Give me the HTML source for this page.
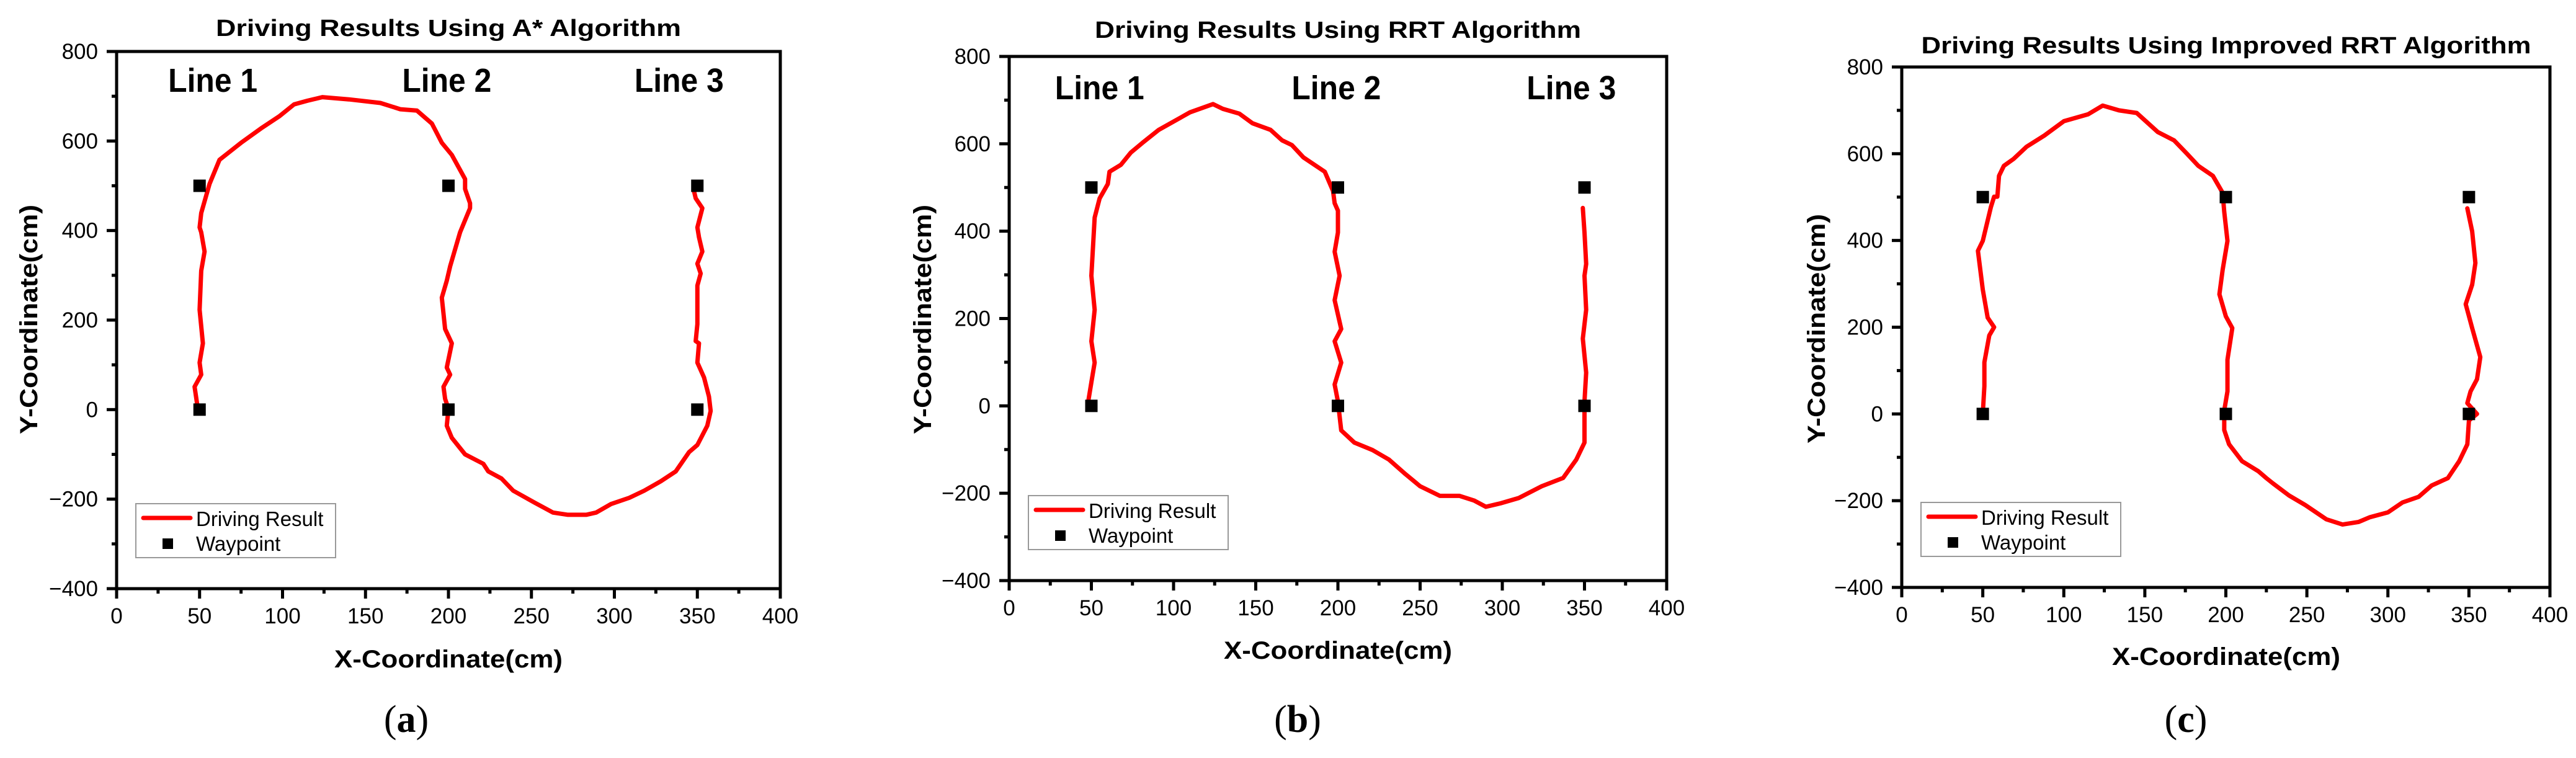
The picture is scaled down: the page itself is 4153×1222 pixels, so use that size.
<!DOCTYPE html>
<html><head><meta charset="utf-8"><style>
html,body{margin:0;padding:0;background:#fff;width:4153px;height:1222px;overflow:hidden}
svg{display:block;font-family:"Liberation Sans",Arial,sans-serif}
</style></head><body>
<svg id="fig" width="4153" height="1222" viewBox="0 0 4153 1222" xmlns="http://www.w3.org/2000/svg"></svg>
<script>
// ---- data ----
const xTickValues = [0, 50, 100, 150, 200, 250, 300, 350, 400];
const yTickValues = [-400, -200, 0, 200, 400, 600, 800];
const waypointX = [50, 50, 200, 200, 350, 350];
const waypointY = [0, 500, 500, 0, 500, 0];
const lineLabels = ["Line 1", "Line 2", "Line 3"];

const pathAX = [48.7,47,51,50,52,50,51,53,51,50,51,56,62,75,87,98,107,115,124,140,159,171,181,190,196,202,210,210,213,213,207,201,199,196,198,202,199,201,197,198,200,199,202,210,221,224,232,239,252,263,272,283,289,298,309,318,328,337,345,350,356,358,357,354,350,351,349,350,350,352,350,353,351,350,353,349,348];
const pathAY = [8,51,78,105,148,223,310,353,396,407,439,504,558,596,628,655,682,690,698,693,685,671,668,639,596,569,515,493,461,450,396,320,288,250,180,148,94,78,51,24,2,-36,-63,-100,-121,-138,-154,-181,-208,-230,-235,-235,-230,-211,-197,-181,-160,-138,-95,-79,-36,-3,29,72,105,148,153,191,277,304,326,353,385,407,450,472,488];

const pathBX = [48.3,50,52,50,52,50,52,55,60,61,68,74,81,91,110,124,130,140,148,159,166,172,179,192,197,198,200,200,198,201,198,202,198,202,198,200,202,210,221,231,241,250,262,274,283,290,299,310,324,337,345,350,350,351,349,351,350,351,350,349];
const pathBY = [15,54,99,148,220,298,431,475,508,536,552,580,602,632,672,691,680,669,647,632,608,597,569,536,492,464,447,397,353,298,242,176,148,99,49,10,-56,-84,-101,-123,-156,-184,-206,-206,-217,-231,-223,-211,-184,-165,-123,-84,10,76,154,220,298,325,397,453];

const pathCX = [50,51,51,54,57,53,50,47,50,55,57,59,60,63,69,77,88,100,115,124,134,145,158,168,176,183,192,198,199,201,198,196,200,204,201,201,199,199,202,210,220,225,229,239,249,262,272,282,289,300,309,319,327,337,344,349,350,355,349,351,355,357,352,348,352,354,352,349];
const pathCY = [0,64,119,181,200,222,287,376,399,477,501,501,549,572,588,616,642,675,691,711,700,694,650,631,600,572,549,510,466,399,332,276,225,198,125,52,8,-37,-70,-109,-132,-148,-160,-188,-210,-243,-255,-249,-238,-227,-204,-191,-165,-148,-109,-70,-15,0,25,52,80,131,198,253,298,348,421,474];

// ---- drawing ----
const NS = "http://www.w3.org/2000/svg";
const svg = document.getElementById("fig");
function mk(tag, attrs, parent, text) {
  const e = document.createElementNS(NS, tag);
  for (const k in attrs) e.setAttribute(k, attrs[k]);
  if (text !== undefined) e.textContent = text;
  (parent || svg).appendChild(e);
  return e;
}

const charts = [
  {id:"a", title:"Driving Results Using A* Algorithm", x0:188, x1:1258, yTop:83, yBot:949,
   px:pathAX, py:pathAY, labels:[58,199,339], labelY:710,
   titleX:723, titleY:58, titleLen:750, xtX:723, xtY:1076, ytX:46, ytY:515, cap:"a", capX:655},
  {id:"b", title:"Driving Results Using RRT Algorithm", x0:1627, x1:2687, yTop:91, yBot:936,
   px:pathBX, py:pathBY, labels:[55,199,342], labelY:702,
   titleX:2157, titleY:61, titleLen:784, xtX:2157, xtY:1062, ytX:1487, ytY:515, cap:"b", capX:2092},
  {id:"c", title:"Driving Results Using Improved RRT Algorithm", x0:3066, x1:4111, yTop:108, yBot:947,
   px:pathCX, py:pathCY, labels:null, labelY:0,
   titleX:3589, titleY:86, titleLen:983, xtX:3589, xtY:1072, ytX:2928, ytY:530, cap:"c", capX:3524}
];

charts.forEach(c => {
  const g = mk("g", {});
  
  
  const sx = v => c.x0 + (v - 0) / 400 * (c.x1 - c.x0);
  const sy = v => c.yBot - (v + 400) / 1200 * (c.yBot - c.yTop);

  const t = mk("text", {x:c.titleX, y:c.titleY, "text-anchor":"middle", "font-size":38, "font-weight":"bold", textLength:c.titleLen, lengthAdjust:"spacingAndGlyphs"}, g, c.title);
  
  

  const fr = mk("rect", {x:c.x0, y:c.yTop, width:c.x1-c.x0, height:c.yBot-c.yTop, fill:"none", stroke:"#000", "stroke-width":5}, g);
  
  

  for (let v = 0; v <= 400; v += 25) {
    const major = v % 50 === 0;
    const tk = mk("line", {x1:sx(v), x2:sx(v), y1:c.yBot, y2:c.yBot + (major ? 16 : 8), stroke:"#000", "stroke-width":5}, g);
    
    
  }
  xTickValues.forEach(v => {
    const l = mk("text", {x:sx(v), y:c.yBot + 56, "text-anchor":"middle", "font-size":35}, g, String(v));
    
    
  });
  for (let v = -400; v <= 800; v += 100) {
    const major = v % 200 === 0;
    const tk = mk("line", {x1:c.x0 - (major ? 16 : 8), x2:c.x0, y1:sy(v), y2:sy(v), stroke:"#000", "stroke-width":5}, g);
    
    
  }
  yTickValues.forEach(v => {
    const l = mk("text", {x:c.x0 - 30, y:sy(v) + 12, "text-anchor":"end", "font-size":35}, g, String(v).replace("-", "\u2212"));
    
    
  });

  const xt = mk("text", {x:c.xtX, y:c.xtY, "text-anchor":"middle", "font-size":40, "font-weight":"bold", textLength:368, lengthAdjust:"spacingAndGlyphs"}, g, "X-Coordinate(cm)");
  
  
  const yt = mk("text", {x:0, y:0, "text-anchor":"middle", "font-size":40, "font-weight":"bold", textLength:370, lengthAdjust:"spacingAndGlyphs", transform:`translate(${c.ytX + 14},${c.ytY}) rotate(-90)`}, g, "Y-Coordinate(cm)");
  
  

  if (c.labels) {
    c.labels.forEach((lx, i) => {
      const l = mk("text", {x:sx(lx), y:sy(c.labelY), "text-anchor":"middle", "font-size":54, "font-weight":"bold", textLength:144, lengthAdjust:"spacingAndGlyphs"}, g, lineLabels[i]);
      
      
    });
  }

  let d = "";
  c.px.forEach((v, i) => { d += (i ? "L" : "M") + sx(v).toFixed(1) + "," + sy(c.py[i]).toFixed(1); });
  const p = mk("path", {d:d, fill:"none", stroke:"#ff0000", "stroke-width":7, "stroke-linejoin":"round", "stroke-linecap":"round"}, g);
  
  

  waypointX.forEach((v, i) => {
    const m = mk("rect", {x:sx(v) - 10, y:sy(waypointY[i]) - 10, width:20, height:20, fill:"#000"}, g);
    
    
  });

  const lx = c.x0 + 31, ly = c.yBot - 137;
  const lg = mk("g", {}, g);
  
  
  mk("rect", {x:lx, y:ly, width:322, height:87, fill:"#fff", stroke:"#999", "stroke-width":2}, lg);
  const ll = mk("line", {x1:lx + 12, x2:lx + 88, y1:ly + 23, y2:ly + 23, stroke:"#ff0000", "stroke-width":7, "stroke-linecap":"round"}, lg);
  
  
  mk("text", {x:lx + 97, y:ly + 36, "font-size":33}, lg, "Driving Result");
  const lm = mk("rect", {x:lx + 43, y:ly + 56, width:17, height:17, fill:"#000"}, lg);
  
  
  mk("text", {x:lx + 97, y:ly + 76, "font-size":33}, lg, "Waypoint");

  const cp = mk("text", {x:c.capX, y:1180, "text-anchor":"middle", "font-size":62, "font-family":"'Liberation Serif',serif"}, g);
  
  
  mk("tspan", {}, cp, "(");
  mk("tspan", {"font-weight":"bold"}, cp, c.cap);
  mk("tspan", {}, cp, ")");
});
</script>
</body></html>
